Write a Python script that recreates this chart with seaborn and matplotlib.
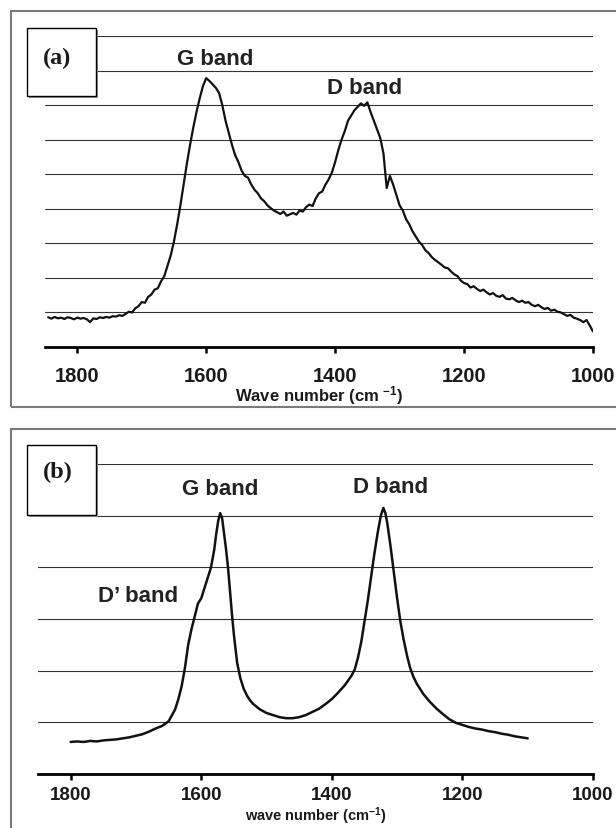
import numpy as np
import pandas as pd
import matplotlib
matplotlib.use("Agg")
import matplotlib.pyplot as plt
from matplotlib.patches import Rectangle
import seaborn as sns

sns.set_style("white")
plt.rcParams['font.family'] = ['Liberation Sans', 'DejaVu Sans']
plt.rcParams['mathtext.fontset'] = 'custom'
plt.rcParams['mathtext.rm'] = 'Liberation Sans'
plt.rcParams['mathtext.bf'] = 'Liberation Sans:bold'
plt.rcParams['mathtext.default'] = 'bf'

"""
Data read off the two Raman spectra (intensity in gridline units)
"""

# panel (a): 1845 -> 1000 cm-1, every 5 cm-1
wn_a = np.arange(1845, 995, -5)
int_a = [0.86, 0.82, 0.87, 0.83, 0.85, 0.81, 0.86, 0.84, 0.80, 0.85,
         0.82, 0.84, 0.80, 0.72, 0.83, 0.81, 0.86, 0.84, 0.87, 0.85,
         0.89, 0.88, 0.92, 0.90, 0.96, 1.02, 1.00, 1.12, 1.18, 1.30,
         1.28, 1.45, 1.52, 1.66, 1.70, 1.90, 2.05, 2.35, 2.65, 3.05,
         3.55, 4.10, 4.70, 5.30, 5.85, 6.35, 6.80, 7.20, 7.55, 7.78,
         7.70, 7.60, 7.50, 7.35, 7.00, 6.55, 6.20, 5.85, 5.55, 5.35,
         5.10, 4.95, 4.90, 4.70, 4.55, 4.45, 4.30, 4.22, 4.10, 4.02,
         3.95, 3.90, 3.85, 3.92, 3.80, 3.84, 3.88, 3.83, 3.95, 3.92,
         4.05, 4.12, 4.08, 4.30, 4.45, 4.50, 4.70, 4.85, 5.05, 5.35,
         5.70, 6.00, 6.25, 6.55, 6.70, 6.85, 6.95, 7.05, 6.98, 7.08,
         6.80, 6.55, 6.30, 6.05, 5.60, 4.60, 4.95, 4.70, 4.40, 4.10,
         3.95, 3.70, 3.55, 3.35, 3.20, 3.05, 2.95, 2.80, 2.72, 2.60,
         2.52, 2.45, 2.38, 2.30, 2.28, 2.18, 2.10, 2.05, 1.92, 1.85,
         1.82, 1.72, 1.76, 1.68, 1.62, 1.66, 1.58, 1.52, 1.56, 1.48,
         1.45, 1.50, 1.40, 1.38, 1.42, 1.35, 1.30, 1.34, 1.28, 1.30,
         1.22, 1.18, 1.22, 1.15, 1.10, 1.13, 1.05, 1.08, 1.02, 1.00,
         0.95, 0.90, 0.93, 0.85, 0.82, 0.78, 0.72, 0.78, 0.62, 0.45]

# panel (b): 1800 -> 1100 cm-1
wn_b = [1800, 1790, 1780, 1770, 1760, 1750, 1740, 1730, 1720, 1710,
        1700, 1690, 1680, 1670, 1660, 1650, 1640, 1635, 1630, 1625,
        1620, 1615, 1610, 1605, 1600, 1595, 1590, 1585, 1580, 1577,
        1574, 1571, 1568, 1565, 1562, 1559, 1556, 1553, 1550, 1545,
        1540, 1535, 1530, 1525, 1520, 1510, 1500, 1490, 1480, 1470,
        1460, 1450, 1440, 1430, 1420, 1410, 1400, 1390, 1380, 1370,
        1365, 1360, 1355, 1350, 1345, 1340, 1335, 1330, 1325, 1321,
        1318, 1315, 1310, 1305, 1300, 1295, 1290, 1285, 1280, 1275,
        1270, 1260, 1250, 1240, 1230, 1220, 1210, 1200, 1190, 1180,
        1170, 1160, 1150, 1140, 1130, 1120, 1110, 1100]
int_b = [0.62, 0.63, 0.62, 0.64, 0.63, 0.65, 0.66, 0.67, 0.69, 0.71,
         0.74, 0.77, 0.82, 0.88, 0.93, 1.02, 1.25, 1.45, 1.70, 2.05,
         2.50, 2.80, 3.05, 3.30, 3.40, 3.60, 3.80, 4.00, 4.35, 4.65,
         4.90, 5.05, 4.95, 4.65, 4.35, 4.00, 3.55, 3.10, 2.70, 2.15,
         1.85, 1.65, 1.52, 1.42, 1.35, 1.25, 1.18, 1.14, 1.10, 1.08,
         1.08, 1.10, 1.14, 1.20, 1.26, 1.35, 1.45, 1.58, 1.72, 1.90,
         2.02, 2.25, 2.55, 2.95, 3.35, 3.80, 4.25, 4.65, 5.00, 5.15,
         5.05, 4.85, 4.40, 3.90, 3.40, 2.95, 2.60, 2.30, 2.05, 1.88,
         1.75, 1.55, 1.40, 1.27, 1.16, 1.06, 0.99, 0.95, 0.91, 0.88,
         0.86, 0.83, 0.81, 0.78, 0.76, 0.73, 0.71, 0.69]

xticks = [1800, 1600, 1400, 1200, 1000]

W, H = 616., 829.

def fx(px):
    return px / W

def fy(py):
    return 1 - py / H

def style_ax(ax, ntop, xlabel, tsize, tpad, lsize, ly):
    ax.set_xlim(1850, 1000)
    ax.set_ylim(0, ntop)
    ax.set_yticks(range(1, ntop + 1))
    ax.set_yticklabels([])
    ax.yaxis.grid(True, color='#333333', linewidth=0.8)
    ax.xaxis.grid(False)
    for s in ['left', 'right', 'top']:
        ax.spines[s].set_visible(False)
    ax.spines['bottom'].set_linewidth(2)
    ax.spines['bottom'].set_color('black')
    ax.set_xticks(xticks)
    ax.set_xticklabels([str(t) for t in xticks], fontsize=tsize, fontweight='bold', color='#1a1a1a')
    ax.tick_params(axis='x', direction='out', length=4, width=1.8, pad=tpad, bottom=True, color='black')
    ax.tick_params(axis='y', length=0)
    ax.set_xlabel(xlabel, fontsize=lsize, fontweight='bold', color='#1a1a1a', va='center')
    # x label placed by hand at pixel row ly
    bot = ax.get_position().y0
    h = ax.get_position().height
    ax.xaxis.set_label_coords(0.5, (fy(ly) - bot) / h)
    ax.set_ylabel("")

def label_box(fig, x0, y0, x1, y1, txt, tx, ty):
    fig.patches.append(Rectangle((fx(x0 + 1.5), fy(y1 + 1.5)), fx(x1 - x0), (y1 - y0) / H,
                                 transform=fig.transFigure, facecolor='#999999', edgecolor='none', zorder=3))
    fig.patches.append(Rectangle((fx(x0), fy(y1)), fx(x1 - x0), (y1 - y0) / H,
                                 transform=fig.transFigure, facecolor='white', edgecolor='black',
                                 linewidth=1, zorder=4))
    fig.text(fx(tx), fy(ty), txt, ha='center', va='center', fontsize=17.5, fontweight='bold',
             family=['Liberation Serif', 'DejaVu Serif'], color='#1a1a1a', zorder=5)

fig = plt.figure(figsize=(6.16, 8.29), dpi=100)

# outer frames (open on right / bottom, cut by image edge)
fig.patches.append(Rectangle((fx(11), fy(408)), 1.0, (408 - 12) / H, transform=fig.transFigure,
                             fill=False, edgecolor='#7a7a7a', linewidth=1.5, zorder=2))
fig.patches.append(Rectangle((fx(11), -0.05), 1.0, fy(430) + 0.05, transform=fig.transFigure,
                             fill=False, edgecolor='#7a7a7a', linewidth=1.5, zorder=2))

# panel (a)
ax1 = fig.add_axes([fx(45), fy(348), fx(593 - 45), (348 - 37) / H])
df_a = pd.DataFrame({"wn": wn_a, "I": int_a})
sns.lineplot(data=df_a, x="wn", y="I", sort=False, color='#111111', linewidth=1.6, ax=ax1)
style_ax(ax1, 9, "Wave number (cm $^{-1}$)", 14.5, 10, 12, 396)
ax1.text(1586, 8.35, "G band", ha='center', va='center', fontsize=16, fontweight='bold', color='#222222')
ax1.text(1355, 7.5, "D band", ha='center', va='center', fontsize=16, fontweight='bold', color='#222222')

# panel (b)
ax2 = fig.add_axes([fx(38), fy(775), fx(593 - 38), (775 - 465) / H])
df_b = pd.DataFrame({"wn": wn_b, "I": int_b})
sns.lineplot(data=df_b, x="wn", y="I", sort=False, color='#111111', linewidth=1.8, ax=ax2)
style_ax(ax2, 6, "wave number (cm$^{-1}$)", 13.5, 5, 10.5, 816)
ax2.text(1571, 5.53, "G band", ha='center', va='center', fontsize=16, fontweight='bold', color='#222222')
ax2.text(1310, 5.57, "D band", ha='center', va='center', fontsize=16, fontweight='bold', color='#222222')
ax2.text(1635, 3.46, "D\u2019 band", ha='right', va='center', fontsize=16, fontweight='bold', color='#222222')

label_box(fig, 27, 29, 96, 97, "(a)", 57, 58)
label_box(fig, 27, 446, 96, 516, "(b)", 58, 472)

plt.savefig("out.png", dpi=100)
plt.close()
